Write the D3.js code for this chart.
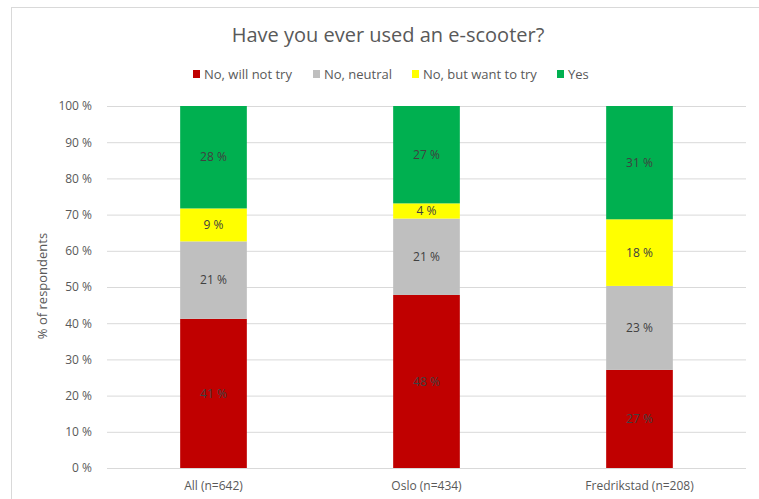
<!DOCTYPE html>
<html>
<head>
  <meta charset="utf-8">
  <title>Have you ever used an e-scooter?</title>
  <script src="https://d3js.org/d3.v7.min.js"></script>
  <style>
    body { margin: 0; background: #fff; }
    .grid line { stroke: #d9d9d9; stroke-width: 1px; }
    .tick text { font: 12px "Open Sans", sans-serif; fill: #595959; }
    .seg-label { font: 12px "Open Sans", sans-serif; fill: #404040; }
  </style>
</head>
<body>
  <svg width="759" height="499"></svg>

  <script>
    // data
    const groups = ["All (n=642)", "Oslo (n=434)", "Fredrikstad (n=208)"];
    const answers = ["No, will not try", "No, neutral", "No, but want to try", "Yes"];
    const colors = ["#c00000", "#bfbfbf", "#ffff00", "#00b050"];
    const willNotTry = [41.2, 47.8, 27.1];
    const neutral = [21.4, 21.1, 23.2];
    const wantToTry = [9.1, 4.2, 18.4];
    const yes = [28.3, 26.9, 31.3];
    const yTicks = [0, 10, 20, 30, 40, 50, 60, 70, 80, 90, 100];

    const series = [willNotTry, neutral, wantToTry, yes];
    const rows = groups.map((g, i) => {
      const r = { group: g };
      answers.forEach((a, k) => { r[a] = series[k][i]; });
      return r;
    });

    const svg = d3.select("svg");

    // chart frame
    svg.append("rect")
      .attr("x", 11.5).attr("y", 7.5)
      .attr("width", 800).attr("height", 520)
      .attr("fill", "none")
      .attr("stroke", "#d9d9d9");

    const plotLeft = 107, plotRight = 746, plotTop = 106, plotBottom = 468;

    const x = d3.scaleBand()
      .domain(groups)
      .range([plotLeft, plotRight])
      .paddingInner(0.687)
      .paddingOuter(0.687 / 2);

    const y = d3.scaleLinear().domain([0, 100]).range([plotBottom, plotTop]);

    // gridlines
    svg.append("g")
      .attr("class", "grid")
      .selectAll("line")
      .data(yTicks)
      .enter().append("line")
      .attr("x1", plotLeft).attr("x2", plotRight)
      .attr("y1", d => y(d) + 0.5).attr("y2", d => y(d) + 0.5);

    // y axis labels
    const yAxis = svg.append("g")
      .attr("transform", `translate(${plotLeft},0)`)
      .call(d3.axisLeft(y).tickValues(yTicks).tickSize(0).tickPadding(15).tickFormat(d => d + " %"));
    yAxis.select(".domain").remove();

    // x axis labels
    const xAxis = svg.append("g")
      .attr("transform", `translate(0,${plotBottom})`)
      .call(d3.axisBottom(x).tickSize(0).tickPadding(13));
    xAxis.select(".domain").remove();

    const stack = d3.stack().keys(answers);
    const layers = stack(rows);

    const layer = svg.selectAll("g.layer")
      .data(layers)
      .enter().append("g")
      .attr("class", "layer")
      .attr("fill", (d, i) => colors[i]);

    layer.selectAll("rect")
      .data(d => d)
      .enter().append("rect")
      .attr("x", d => x(d.data.group))
      .attr("width", x.bandwidth())
      .attr("y", d => y(d[1]))
      .attr("height", d => y(d[0]) - y(d[1]));

    layer.selectAll("text")
      .data(d => d)
      .enter().append("text")
      .attr("class", "seg-label")
      .attr("x", d => x(d.data.group) + x.bandwidth() / 2)
      .attr("y", d => (y(d[0]) + y(d[1])) / 2)
      .attr("text-anchor", "middle")
      .attr("dy", "0.35em")
      .text(d => Math.round(d[1] - d[0]) + " %");

    // title
    svg.append("text")
      .attr("x", 388).attr("y", 42)
      .attr("text-anchor", "middle")
      .style("font", "20px 'Open Sans', sans-serif")
      .style("fill", "#595959")
      .text("Have you ever used an e-scooter?");

    // y axis title
    svg.append("text")
      .attr("transform", "translate(47,286) rotate(-90)")
      .attr("text-anchor", "middle")
      .style("font", "13px 'Open Sans', sans-serif")
      .style("fill", "#595959")
      .text("% of respondents");

    // legend
    const legendX = [193, 313, 412, 557];
    const legend = svg.append("g")
      .selectAll("g")
      .data(answers)
      .enter().append("g")
      .attr("transform", (d, i) => `translate(${legendX[i]},74)`);
    legend.append("rect")
      .attr("x", 0).attr("y", -4)
      .attr("width", 7).attr("height", 8)
      .attr("fill", (d, i) => colors[i]);
    legend.append("text")
      .attr("x", 11).attr("y", 0)
      .attr("dy", "0.35em")
      .style("font", "13px 'Open Sans', sans-serif")
      .style("fill", "#595959")
      .text(d => d);
  </script>
</body>
</html>
